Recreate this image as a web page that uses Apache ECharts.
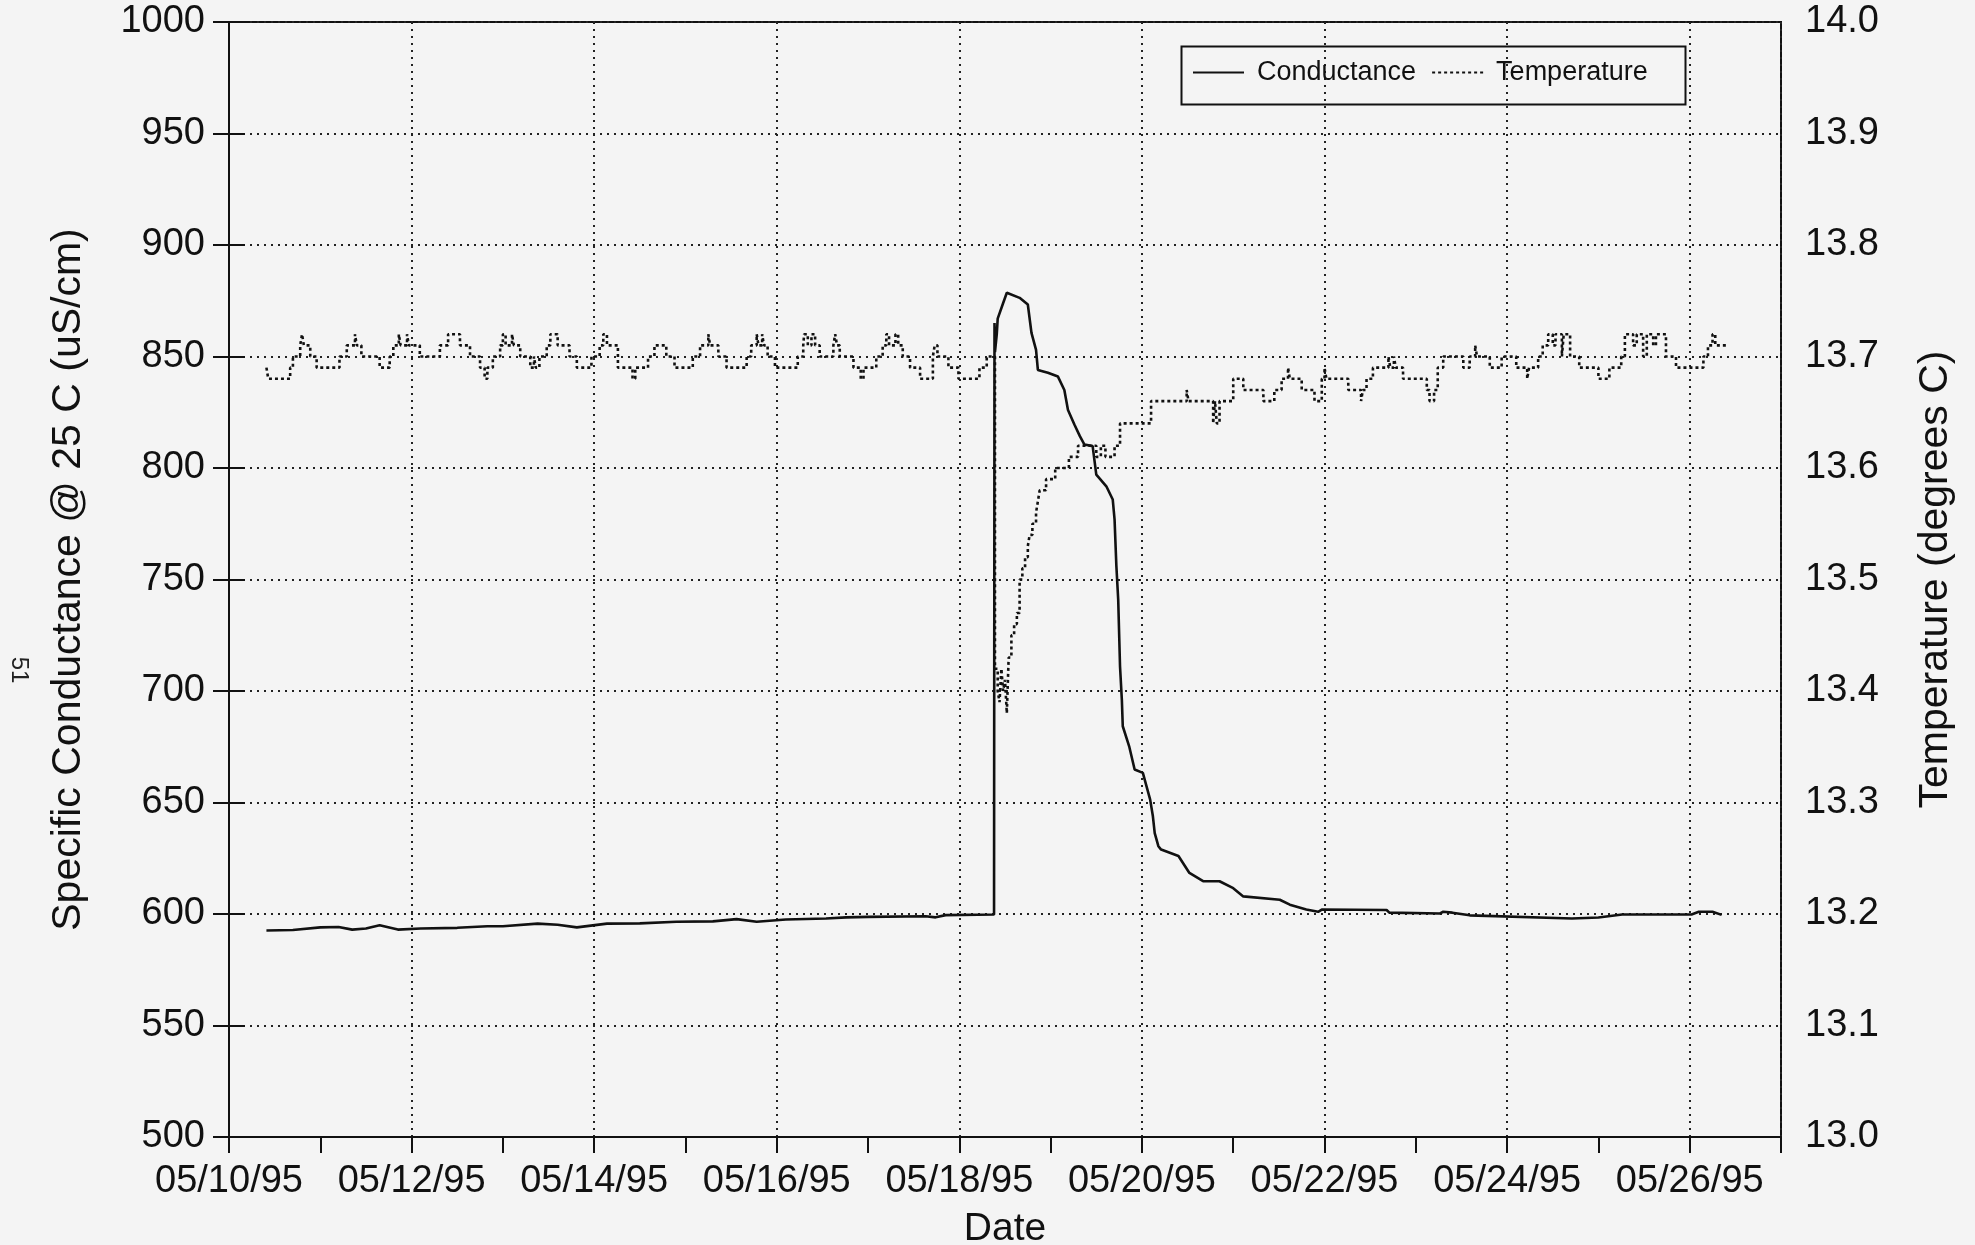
<!DOCTYPE html>
<html>
<head>
<meta charset="utf-8">
<script src="https://cdn.jsdelivr.net/npm/echarts@6/dist/echarts.min.js"></script>
<style>
html,body{margin:0;padding:0;background:#f4f4f4;}
#chart{width:1975px;height:1245px;}
</style>
</head>
<body>
<div id="chart"></div>
<script>
// x values are days since 05/10/95 00:00
const xTickLabels = ['05/10/95','05/12/95','05/14/95','05/16/95','05/18/95','05/20/95','05/22/95','05/24/95','05/26/95'];

const conductanceDays = [0.41,0.70,1.00,1.20,1.35,1.50,1.65,1.85,2.10,2.50,2.83,3.00,3.38,3.60,3.81,4.14,4.50,4.90,5.30,5.56,5.78,6.10,6.54,6.76,7.00,7.63,7.74,7.85,8.38,
  8.385,8.39,8.41,8.42,8.48,8.52,8.66,8.75,8.79,8.84,8.86,8.97,9.08,9.15,9.19,9.26,9.32,9.37,9.46,9.50,9.61,9.68,9.70,9.72,9.74,9.76,9.78,9.79,9.86,9.92,10.01,10.09,10.12,10.14,10.18,10.21,10.40,10.52,10.67,10.85,11.00,11.11,11.51,11.62,11.80,11.93,11.97,12.68,12.71,13.26,13.30,13.40,13.59,14.71,15.00,15.26,16.02,16.10,16.25,16.35];
const conductanceValues = [592.6,592.8,594.0,594.2,593.0,593.5,595.0,593.0,593.5,593.8,594.5,594.5,595.7,595.2,594.0,595.7,595.8,596.5,596.7,597.7,596.5,597.5,598.0,598.5,598.7,599.0,598.5,599.5,599.8,
  865,852,860,867,874,878.6,876.3,873.3,860.6,853,844,842.7,841,835,826,819.5,814.3,810.5,809.8,797,791.8,785.9,777,756,741,711,696,684.2,675.2,664.8,663.3,651.3,643.8,636.3,630.4,628.9,626,618.4,614.7,614.7,611.6,607.9,606.4,604.2,602,601,602,601.8,600.6,600.2,601,600.6,599.4,598,598.4,599.8,599.8,601,601,599.6];

const temperatureDays = [0.41,0.43,0.67,0.70,0.78,0.80,0.82,0.89,0.96,1.21,1.29,1.38,1.40,1.45,1.65,1.76,1.80,1.86,1.88,1.95,1.97,2.09,2.31,2.40,2.53,2.64,2.75,2.80,2.83,2.89,2.97,3.00,3.03,3.10,3.12,3.19,3.30,3.34,3.36,3.40,3.48,3.52,3.60,3.73,3.81,3.97,4.06,4.10,4.14,4.26,4.42,4.45,4.59,4.66,4.79,4.88,5.08,5.16,5.25,5.27,5.36,
  5.45,5.67,5.72,5.78,5.80,5.84,5.86,5.90,5.98,6.23,6.29,6.30,6.34,6.38,6.42,6.47,6.62,6.64,6.66,6.69,6.84,6.92,6.95,7.09,7.16,7.20,7.23,7.30,7.33,7.38,7.46,7.57,7.71,7.73,7.76,7.88,7.99,8.22,8.30,
  8.39,8.42,8.44,8.46,8.48,8.50,8.52,8.54,8.57,8.60,8.63,8.66,8.69,8.72,8.75,8.77,8.80,8.84,8.86,8.88,8.95,9.05,9.20,9.30,9.50,9.55,9.60,9.70,9.76,10.10,10.49,10.51,10.78,10.80,10.82,10.85,11.00,11.11,11.33,11.45,11.53,11.60,11.62,11.75,11.89,11.97,12.00,12.02,12.26,12.40,12.42,12.46,12.53,12.70,12.72,12.76,12.78,12.86,13.12,13.15,13.20,13.24,13.30,13.52,13.59,13.65,13.67,13.81,13.94,14.10,14.22,14.24,14.34,14.39,14.45,14.50,14.53,14.60,14.62,14.69,14.79,15.00,15.12,15.25,15.29,15.38,15.42,15.49,15.53,15.60,15.63,15.74,15.85,16.15,16.20,16.25,16.28,16.42];
const temperatureValues = [13.69,13.68,13.69,13.70,13.71,13.72,13.71,13.70,13.69,13.70,13.71,13.72,13.71,13.70,13.69,13.70,13.71,13.72,13.71,13.72,13.71,13.70,13.71,13.72,13.71,13.70,13.69,13.68,13.69,13.70,13.71,13.72,13.71,13.72,13.71,13.70,13.69,13.70,13.69,13.70,13.71,13.72,13.71,13.70,13.69,13.70,13.71,13.72,13.71,13.69,13.68,13.69,13.70,13.71,13.70,13.69,13.70,13.71,13.72,13.71,13.70,
  13.69,13.70,13.71,13.72,13.71,13.72,13.71,13.70,13.69,13.70,13.71,13.72,13.71,13.72,13.71,13.70,13.71,13.72,13.71,13.70,13.69,13.68,13.69,13.70,13.71,13.72,13.71,13.72,13.71,13.70,13.69,13.68,13.70,13.71,13.70,13.69,13.68,13.69,13.70,
  13.42,13.40,13.39,13.42,13.40,13.41,13.38,13.43,13.45,13.46,13.47,13.50,13.51,13.52,13.53,13.54,13.55,13.56,13.57,13.58,13.59,13.60,13.61,13.62,13.61,13.62,13.61,13.62,13.64,13.66,13.67,13.66,13.64,13.66,13.64,13.66,13.68,13.67,13.66,13.67,13.68,13.69,13.68,13.67,13.66,13.68,13.69,13.68,13.67,13.66,13.67,13.68,13.69,13.70,13.69,13.70,13.69,13.68,13.67,13.66,13.67,13.69,13.70,13.69,13.70,13.71,13.70,13.69,13.70,13.69,13.68,13.69,13.70,13.71,13.72,13.71,13.72,13.70,13.72,13.70,13.69,13.68,13.69,13.70,13.72,13.71,13.72,13.70,13.72,13.71,13.72,13.70,13.69,13.70,13.71,13.72,13.71,13.71];

const FONT = 'Liberation Sans, Arial, Helvetica, sans-serif';
const INK = '#111';

const chart = echarts.init(document.getElementById('chart'), null, {renderer: 'canvas'});
const gridDots = {color: '#222', width: 2, type: [2, 5]};

chart.setOption({
  backgroundColor: '#f4f4f4',
  animation: false,
  grid: {left: 229, right: 194, top: 22, bottom: 108, containLabel: false, outerBoundsMode: 'none',
    show: true, borderColor: INK, borderWidth: 2, backgroundColor: 'transparent'},
  legend: {
    left: 1192, top: 59, padding: 0,
    itemWidth: 51, itemHeight: 26, itemGap: 15,
    itemStyle: {opacity: 0},
    textStyle: {fontFamily: FONT, fontSize: 27, color: INK, padding: [0, 0, 0, 8]},
    data: ['Conductance', 'Temperature']
  },
  graphic: [
    {type: 'rect', shape: {x: 1181.5, y: 46.5, width: 504, height: 58}, style: {fill: 'none', stroke: INK, lineWidth: 2}, z: 100},
    {type: 'text', x: 19, y: 670, rotation: -Math.PI / 2, style: {text: '51', font: '24px ' + FONT, fill: '#222', align: 'center', verticalAlign: 'middle'}}
  ],
  xAxis: [
    {type: 'value', min: 0, max: 17, interval: 1, position: 'bottom',
      axisLine: {show: true, lineStyle: {color: INK, width: 2}},
      axisTick: {show: true, inside: false, length: 16, lineStyle: {color: INK, width: 2}},
      axisLabel: {show: false}, splitLine: {show: false}},
    {type: 'value', min: 0, max: 17, interval: 2, position: 'bottom',
      name: 'Date', nameLocation: 'middle', nameGap: 73,
      nameTextStyle: {fontFamily: FONT, fontSize: 39, color: INK},
      axisLine: {show: false}, axisTick: {show: false},
      axisLabel: {show: true, margin: 26, fontFamily: FONT, fontSize: 38, color: INK,
        formatter: function (v) { return (v % 2 === 0 && xTickLabels[v / 2]) ? xTickLabels[v / 2] : ''; }},
      splitLine: {show: true, lineStyle: gridDots}}
  ],
  yAxis: [
    {type: 'value', min: 500, max: 1000, interval: 50, position: 'left',
      name: 'Specific Conductance @ 25 C (uS/cm)', nameLocation: 'middle', nameGap: 140,
      nameTextStyle: {fontFamily: FONT, fontSize: 41, color: INK},
      axisLine: {show: true, lineStyle: {color: INK, width: 2}},
      axisTick: {show: true, inside: false, length: 16, lineStyle: {color: INK, width: 2}},
      axisLabel: {margin: 24, fontFamily: FONT, fontSize: 38, color: INK, formatter: function (v) { return String(v); }},
      splitLine: {show: true, lineStyle: gridDots}},
    {type: 'value', min: 13, max: 14, interval: 0.1, position: 'right',
      name: 'Temperature (degrees C)', nameLocation: 'middle', nameGap: 134,
      nameTextStyle: {fontFamily: FONT, fontSize: 41, color: INK},
      axisLine: {show: true, lineStyle: {color: INK, width: 2}},
      axisTick: {show: true, inside: false, length: 16, lineStyle: {color: INK, width: 2}},
      axisLabel: {margin: 24, fontFamily: FONT, fontSize: 38, color: INK, formatter: function (v) { return v.toFixed(1); }},
      splitLine: {show: false}}
  ],
  series: [
    {name: 'Conductance', type: 'line', xAxisIndex: 0, yAxisIndex: 0, showSymbol: false, symbol: 'none',
      lineStyle: {color: INK, width: 2.6, type: 'solid'}, itemStyle: {color: INK},
      data: conductanceDays.map((d, i) => [d, conductanceValues[i]]), z: 5},
    {name: 'Temperature', type: 'line', xAxisIndex: 0, yAxisIndex: 1, showSymbol: false, symbol: 'none', step: 'end',
      lineStyle: {color: INK, width: 2.6, type: [3, 3]}, itemStyle: {color: INK},
      data: temperatureDays.map((d, i) => [d, temperatureValues[i]]), z: 4}
  ]
});
</script>
</body>
</html>
